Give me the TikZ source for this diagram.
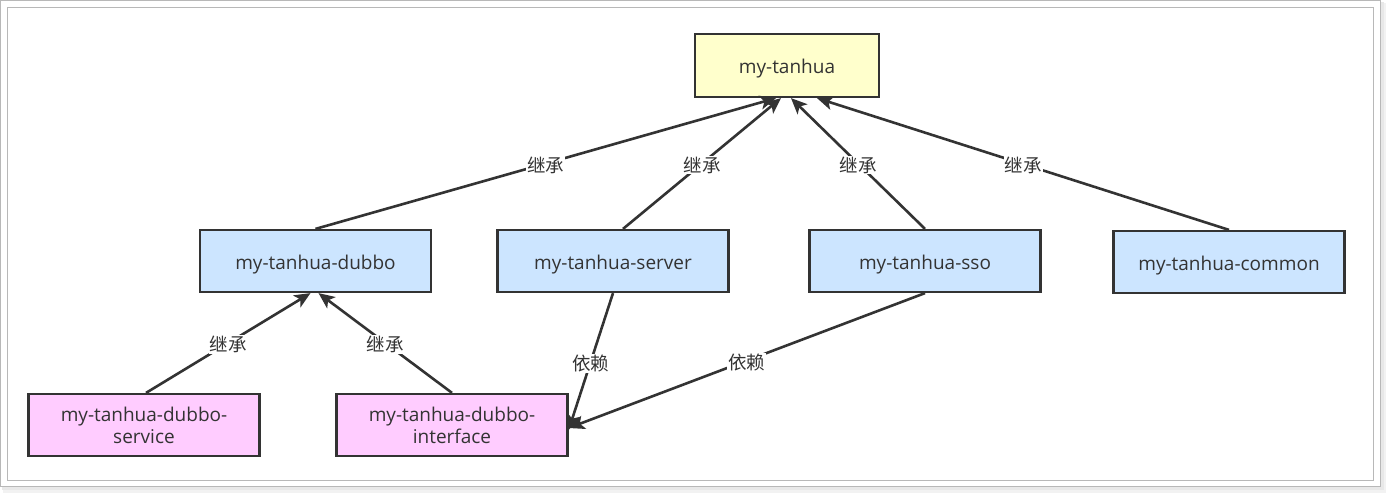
\documentclass[tikz,border=0pt]{standalone}
\usepackage{fontspec}
\setmainfont{Open Sans}
\newfontfamily\cjk{Noto Sans CJK SC}
\usetikzlibrary{arrows.meta,calc}
\definecolor{ink}{HTML}{333333}
\definecolor{yel}{HTML}{FFFFCC}
\definecolor{blu}{HTML}{CCE5FF}
\definecolor{pnk}{HTML}{FFCCFF}
\definecolor{frame}{HTML}{B8B8B8}
\newcommand{\topstrut}{\rule{0pt}{16pt}}
\newcommand{\botstrut}{\rule[-1pt]{0pt}{1pt}}
\tikzset{
  box/.style={draw=ink, line width=2.2pt, minimum width=231pt, minimum height=62pt,
    text=ink, align=center, inner sep=0pt, text height=19pt, text depth=3pt,
    font=\fontsize{19}{21.6}\selectfont},
  twoline/.style={text height=, text depth=},
  conn/.style={draw=ink, line width=2.6pt, -{Stealth[length=16pt,width=14pt,inset=4pt]}},
  lbl/.style={midway, fill=white, inner sep=1pt, text=ink, yshift=-1.5pt,
    font=\cjk\fontsize{18.5}{19}\selectfont}
}
\begin{document}
\begin{tikzpicture}[x=1pt,y=-1pt]
\useasboundingbox (0,0) rectangle (1386,493);
% frame with shadow
\fill[black!5] (3,3) rectangle (1386,493);
\fill[black!9] (2,2) rectangle (1384,490);
\draw[frame, fill=white, line width=1.3pt] (0.7,0.7) rectangle (1380.6,486.6);
\draw[frame, line width=1.3pt] (7.6,7.6) rectangle (1373.2,480.2);
% nodes
\node[box, fill=yel, minimum width=184pt, minimum height=63pt] (top) at (787,65.5) {my-tanhua};
\node[box, fill=blu] (dubbo) at (315.5,261) {my-tanhua-dubbo};
\node[box, fill=blu] (server) at (613,261) {my-tanhua-server};
\node[box, fill=blu] (sso) at (925,261) {my-tanhua-sso};
\node[box, fill=blu] (common) at (1229,262) {my-tanhua-common};
\node[box, twoline, fill=pnk] (svc) at (144,425) {\topstrut my-tanhua-dubbo-\\service\botstrut};
\node[box, twoline, fill=pnk] (itf) at (452,425) {\topstrut my-tanhua-dubbo-\\interface\botstrut};
% anchor points
\coordinate (t1) at ([xshift=-11pt]top.south);
\coordinate (t2) at ([xshift=-6pt]top.south);
\coordinate (t3) at ([xshift=4pt]top.south);
\coordinate (t4) at ([xshift=30pt]top.south);
\coordinate (s1) at ([xshift=10pt]server.north);
\coordinate (d1) at ([xshift=-5pt]dubbo.south);
\coordinate (d2) at ([xshift=3pt]dubbo.south);
\coordinate (e1) at ([yshift=-5pt]itf.east);
\coordinate (e2) at ([yshift=-3pt]itf.east);
% connectors
\draw[conn] (dubbo.north) -- (t1) node[lbl] {继承};
\draw[conn] (s1) -- (t2) node[lbl] {继承};
\draw[conn] (sso.north) -- (t3) node[lbl] {继承};
\draw[conn] (common.north) -- (t4) node[lbl] {继承};
\draw[conn] ([xshift=2pt]svc.north) -- (d1) node[lbl] {继承};
\draw[conn] (itf.north) -- (d2) node[lbl] {继承};
\draw[conn] (server.south) -- (e1) node[lbl, pos=0.5] {依赖};
\draw[conn] (sso.south) -- (e2) node[lbl] {依赖};
\end{tikzpicture}
\end{document}
